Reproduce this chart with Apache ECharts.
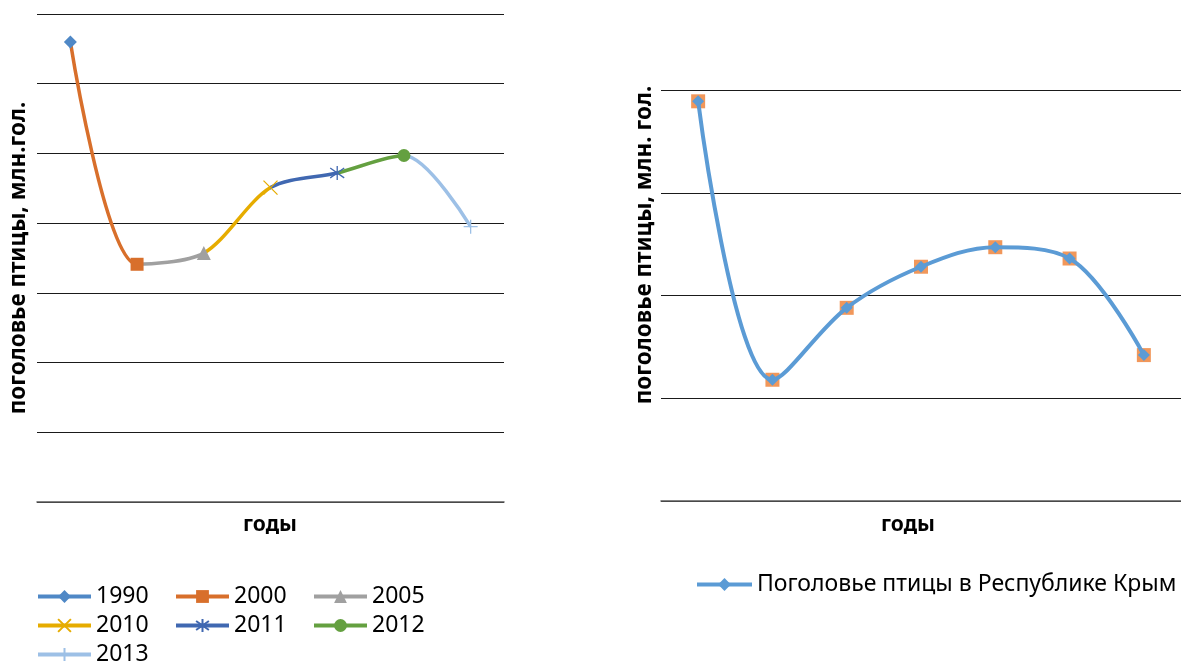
<!DOCTYPE html>
<html><head><meta charset="utf-8">
<script src="https://cdn.jsdelivr.net/npm/echarts@6/dist/echarts.min.js"></script>
<style>html,body{margin:0;padding:0;background:#fff}#c{width:1181px;height:666px}</style>
</head><body><div id="c"></div>
<script>
// ---- data ----
const years = ['1990', '2000', '2005', '2010', '2011', '2012', '2013'];
const leftValues = [6.60, 3.41, 3.57, 4.51, 4.72, 4.97, 3.95];
const rightCategories = ['1990', '2000', '2005', '2010', '2011', '2012', '2013'];
const rightValues = [3.89, 1.18, 1.88, 2.28, 2.47, 2.36, 1.42];
const rightSeriesName = 'Поголовье птицы в Республике Крым';
const leftYTitle = 'поголовье птицы, млн.гол.';
const rightYTitle = 'поголовье птицы, млн. гол.';
const xTitle = 'годы';

// ---- styles ----
const yearColors = ['#4F88C6', '#D86F2B', '#A0A0A0', '#E6AC00', '#4068B1', '#64A040', '#9DC0E6'];
const yearSymbols = ['diamond', 'rect', 'triangle',
  'path://M0,0L10,10M10,0L0,10',
  'path://M5,0L5,10M0,1.5L10,8.5M0,8.5L10,1.5',
  'circle',
  'path://M5,0L5,10M0,5L10,5'];
const strokeOnly = [false, false, false, true, true, false, true];
const symbolSizes = [13, 13, 14, 14, 14, 13, 14];
const FONT = 'Noto Sans';
const legendLefts = [36, 174, 312];
const legendTops = [585, 614, 643];

const chart = echarts.init(document.getElementById('c'), null, {renderer: 'canvas'});

function valueAxis(grid, max) {
  return {
    type: 'value', gridIndex: grid, min: 0, max: max, interval: 1,
    axisLabel: {show: false}, axisTick: {show: false}, axisLine: {show: false},
    splitLine: {lineStyle: {color: '#1a1a1a', width: 1}}
  };
}
function catAxis(grid, data) {
  return {
    type: 'category', gridIndex: grid, data: data, boundaryGap: true,
    axisLabel: {show: false}, axisTick: {show: false},
    axisLine: {show: true, lineStyle: {color: '#595959', width: 1.5}}
  };
}

const series = [];
// smooth curve, segments coloured by year via visualMap
series.push({
  type: 'line', name: '_curve', xAxisIndex: 0, yAxisIndex: 0,
  data: leftValues, smooth: 0.3, showSymbol: false, symbol: 'none',
  lineStyle: {width: 3.5}, z: 2, silent: true
});
// markers, one series per year (for legend)
years.forEach((y, i) => {
  const d = years.map((_, j) => j === i ? leftValues[j] : '-');
  series.push({
    type: 'line', name: y, xAxisIndex: 0, yAxisIndex: 0, data: d,
    symbol: yearSymbols[i], symbolSize: symbolSizes[i], showSymbol: true,
    itemStyle: {color: strokeOnly[i] ? 'rgba(0,0,0,0)' : yearColors[i],
      borderColor: yearColors[i], borderWidth: strokeOnly[i] ? 1.3 : 0},
    lineStyle: {color: yearColors[i], width: 4}, z: 3
  });
});
// right chart
series.push({
  type: 'scatter', name: '_sq', xAxisIndex: 1, yAxisIndex: 1, data: rightValues,
  symbol: 'rect', symbolSize: 14, itemStyle: {color: '#ED7D31'}, z: 2
});
series.push({
  type: 'line', name: rightSeriesName, xAxisIndex: 1, yAxisIndex: 1, data: rightValues,
  smooth: 0.35, symbol: 'diamond', symbolSize: 12, showSymbol: true,
  itemStyle: {color: '#5B9BD5'}, lineStyle: {color: '#5B9BD5', width: 4}, z: 3
});

const pieces = yearColors.map((c, i) => i === 0 ? {lte: 0, color: c} : {gt: i - 1, lte: i, color: c});

const legends = years.map((y, i) => ({
  data: [y], left: legendLefts[i % 3], top: legendTops[Math.floor(i / 3)],
  itemWidth: 53, itemHeight: 16, itemGap: 0, selectedMode: false, padding: 0,
  lineStyle: {width: 4},
  textStyle: {fontFamily: FONT, fontSize: 23, color: '#000'}
}));
legends.push({
  data: [rightSeriesName], left: 695, top: 573,
  itemWidth: 55, itemHeight: 16, selectedMode: false, padding: 0,
  lineStyle: {width: 4},
  textStyle: {fontFamily: FONT, fontSize: 23, color: '#000'}
});

function title(text, x, y, rot, size) {
  return {
    type: 'text', x: x, y: y, rotation: rot || 0,
    style: {text: text, fill: '#000', font: 'bold ' + size + 'px "' + FONT + '"',
      textAlign: 'center', textVerticalAlign: 'middle'}
  };
}

chart.setOption({
  animation: false,
  grid: [
    {left: 37, right: 677, top: 14, bottom: 164},
    {left: 661, right: 0, top: 90, bottom: 165}
  ],
  xAxis: [catAxis(0, years), catAxis(1, rightCategories)],
  yAxis: [valueAxis(0, 7), valueAxis(1, 4)],
  visualMap: {type: 'piecewise', show: false, seriesIndex: 0, dimension: 0, pieces: pieces},
  legend: legends,
  series: series,
  graphic: [
    title(leftYTitle, 19, 258, Math.PI / 2, 22.5),
    title(rightYTitle, 645, 245, Math.PI / 2, 22.5),
    title(xTitle, 270, 525, 0, 21),
    title(xTitle, 908, 525, 0, 21)
  ]
});
</script></body></html>
